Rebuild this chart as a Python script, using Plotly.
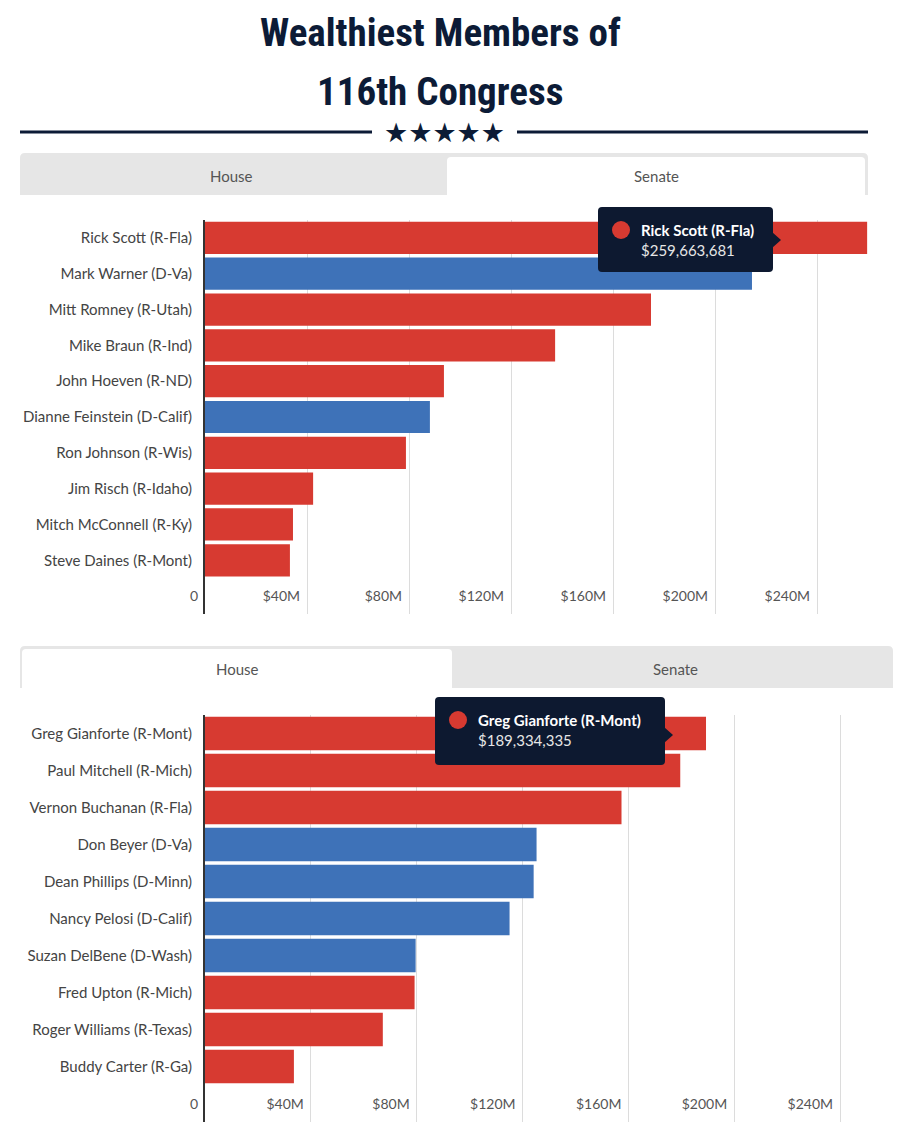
import plotly.graph_objects as go

W, H = 910, 1146

# ---------------- data ----------------
senate_names = ["Rick Scott (R-Fla)", "Mark Warner (D-Va)", "Mitt Romney (R-Utah)",
                "Mike Braun (R-Ind)", "John Hoeven (R-ND)", "Dianne Feinstein (D-Calif)",
                "Ron Johnson (R-Wis)", "Jim Risch (R-Idaho)", "Mitch McConnell (R-Ky)",
                "Steve Daines (R-Mont)"]
senate_values = [259663681, 214500000, 174900000, 137300000, 93700000,
                 88200000, 78800000, 42400000, 34500000, 33300000]
senate_party = ["R", "D", "R", "R", "R", "D", "R", "R", "R", "R"]

house_names = ["Greg Gianforte (R-Mont)", "Paul Mitchell (R-Mich)", "Vernon Buchanan (R-Fla)",
               "Don Beyer (D-Va)", "Dean Phillips (D-Minn)", "Nancy Pelosi (D-Calif)",
               "Suzan DelBene (D-Wash)", "Fred Upton (R-Mich)", "Roger Williams (R-Texas)",
               "Buddy Carter (R-Ga)"]
house_values = [189334335, 179600000, 157400000, 125300000, 124200000,
                115100000, 79600000, 79200000, 67200000, 33600000]
house_party = ["R", "R", "R", "D", "D", "D", "D", "R", "R", "R"]

tick_vals = [0, 40e6, 80e6, 120e6, 160e6, 200e6, 240e6]
tick_text = ["0", "$40M", "$80M", "$120M", "$160M", "$200M", "$240M"]

party_colors = {"R": "#d73a31", "D": "#3e72b8"}
NAVY = "#0c1b36"
TIP_BG = "#0d1930"
TITLE_FONT = "Roboto Condensed, Open Sans Condensed, DejaVu Sans Condensed, sans-serif"


def X(px):
    return px / W


def Y(py):
    return 1 - py / H


def rrect(x0, y0, x1, y1, r, top_only=False):
    """rounded rectangle path in paper coords from pixel coords"""
    if top_only:
        pts = (f"M {X(x0)},{Y(y1)} L {X(x0)},{Y(y0 + r)} "
               f"Q {X(x0)},{Y(y0)} {X(x0 + r)},{Y(y0)} "
               f"L {X(x1 - r)},{Y(y0)} Q {X(x1)},{Y(y0)} {X(x1)},{Y(y0 + r)} "
               f"L {X(x1)},{Y(y1)} Z")
    else:
        pts = (f"M {X(x0)},{Y(y1 - r)} L {X(x0)},{Y(y0 + r)} "
               f"Q {X(x0)},{Y(y0)} {X(x0 + r)},{Y(y0)} "
               f"L {X(x1 - r)},{Y(y0)} Q {X(x1)},{Y(y0)} {X(x1)},{Y(y0 + r)} "
               f"L {X(x1)},{Y(y1 - r)} Q {X(x1)},{Y(y1)} {X(x1 - r)},{Y(y1)} "
               f"L {X(x0 + r)},{Y(y1)} Q {X(x0)},{Y(y1)} {X(x0)},{Y(y1 - r)} Z")
    return pts


fig = go.Figure()

fig.add_trace(go.Bar(
    x=senate_values, y=senate_names, orientation="h",
    marker=dict(color=[party_colors[p] for p in senate_party], line=dict(width=0)),
    xaxis="x", yaxis="y", hoverinfo="skip", showlegend=False))
fig.add_trace(go.Bar(
    x=house_values, y=house_names, orientation="h",
    marker=dict(color=[party_colors[p] for p in house_party], line=dict(width=0)),
    xaxis="x2", yaxis="y2", hoverinfo="skip", showlegend=False))

xcommon = dict(range=[0, 260e6], tickvals=tick_vals, ticktext=tick_text,
               ticklabelposition="inside left", ticklabeloverflow="allow",
               ticklabelshift=-7, ticklabelstandoff=4, automargin=False,
               showgrid=True, gridcolor="#dcdcdc", gridwidth=1, zeroline=False,
               showline=False, ticks="", fixedrange=True,
               tickfont=dict(family="Lato", size=14, color="#555555"))
ycommon = dict(type="category", range=[10.5, -0.5], showgrid=False, zeroline=False,
               showline=True, linecolor="#333333", linewidth=2, ticks="",
               ticklabelstandoff=8, fixedrange=True, automargin=False,
               tickfont=dict(family="Lato", size=15, color="#444444"))

fig.update_layout(
    width=W, height=H, margin=dict(l=0, r=0, t=0, b=0, pad=0), autosize=False,
    paper_bgcolor="white", plot_bgcolor="rgba(0,0,0,0)",
    bargap=0.1,
    xaxis=dict(domain=[X(205), X(868)], anchor="y", **xcommon),
    yaxis=dict(domain=[Y(614), Y(220)], anchor="x", categoryarray=senate_names,
               categoryorder="array", **ycommon),
    xaxis2=dict(domain=[X(205), X(893)], anchor="y2", **xcommon),
    yaxis2=dict(domain=[Y(1122), Y(715)], anchor="x2", categoryarray=house_names,
                categoryorder="array", **ycommon),
)

shapes = []
annotations = []


def label(x, y, text, font, xanchor="center"):
    annotations.append(dict(x=X(x), y=Y(y), xref="paper", yref="paper", text=text,
                            showarrow=False, xanchor=xanchor, yanchor="middle", font=font))


# Title
label(440, 33, "<b>Wealthiest Members of</b>", dict(family=TITLE_FONT, size=39, color=NAVY))
label(440, 92, "<b>116th Congress</b>", dict(family=TITLE_FONT, size=39, color=NAVY))
# rule with stars
shapes.append(dict(type="line", xref="paper", yref="paper", x0=X(20), x1=X(372),
                   y0=Y(132), y1=Y(132), line=dict(color=NAVY, width=3)))
shapes.append(dict(type="line", xref="paper", yref="paper", x0=X(517), x1=X(868),
                   y0=Y(132), y1=Y(132), line=dict(color=NAVY, width=3)))
label(444, 132, "★★★★★", dict(family="DejaVu Sans", size=27, color=NAVY))

TAB_FONT = dict(family="Lato", size=15, color="#555555")
# Tabs (top panel: Senate active)
shapes.append(dict(type="path", xref="paper", yref="paper", layer="below",
                   path=rrect(20, 153, 868, 195, 5, top_only=True),
                   fillcolor="#e6e6e6", line=dict(width=0)))
shapes.append(dict(type="path", xref="paper", yref="paper", layer="below",
                   path=rrect(447, 157, 865, 195, 4, top_only=True),
                   fillcolor="white", line=dict(width=0)))
label(232, 176, "House", TAB_FONT)
label(656, 176, "Senate", TAB_FONT)

# Tabs (bottom panel: House active)
shapes.append(dict(type="path", xref="paper", yref="paper", layer="below",
                   path=rrect(20, 646, 893, 688, 5, top_only=True),
                   fillcolor="#e6e6e6", line=dict(width=0)))
shapes.append(dict(type="path", xref="paper", yref="paper", layer="below",
                   path=rrect(22, 649, 452, 688, 4, top_only=True),
                   fillcolor="white", line=dict(width=0)))
label(237, 669, "House", TAB_FONT)
label(675, 669, "Senate", TAB_FONT)


def tooltip(x0, y0, x1, y1, arrow_y, name, value, color):
    shapes.append(dict(type="path", xref="paper", yref="paper", layer="above",
                       path=rrect(x0, y0, x1, y1, 4), fillcolor=TIP_BG, line=dict(width=0)))
    shapes.append(dict(type="path", xref="paper", yref="paper", layer="above",
                       path=(f"M {X(x1 - 1)},{Y(arrow_y - 8)} L {X(x1 + 8)},{Y(arrow_y)} "
                             f"L {X(x1 - 1)},{Y(arrow_y + 8)} Z"),
                       fillcolor=TIP_BG, line=dict(width=0)))
    cx, cy = x0 + 23, y0 + 23
    shapes.append(dict(type="circle", xref="paper", yref="paper", layer="above",
                       x0=X(cx - 9), x1=X(cx + 9), y0=Y(cy + 9), y1=Y(cy - 9),
                       fillcolor=color, line=dict(width=0)))
    label(x0 + 41, cy, f"<b>{name}</b>", dict(family="Lato", size=15, color="white"),
          xanchor="left")
    label(x0 + 41, cy + 20, f"${value:,}", dict(family="Lato", size=15, color="#e6e6e6"),
          xanchor="left")


tooltip(598, 207, 773, 272, 240, senate_names[0], senate_values[0],
        party_colors[senate_party[0]])
tooltip(435, 697, 665, 765, 735, house_names[0], house_values[0],
        party_colors[house_party[0]])

fig.update_layout(shapes=shapes, annotations=annotations)

fig.write_html("out.html",
               config={"displayModeBar": False, "responsive": False},
               post_script="document.body.style.margin='0';document.body.style.overflow='hidden';")
